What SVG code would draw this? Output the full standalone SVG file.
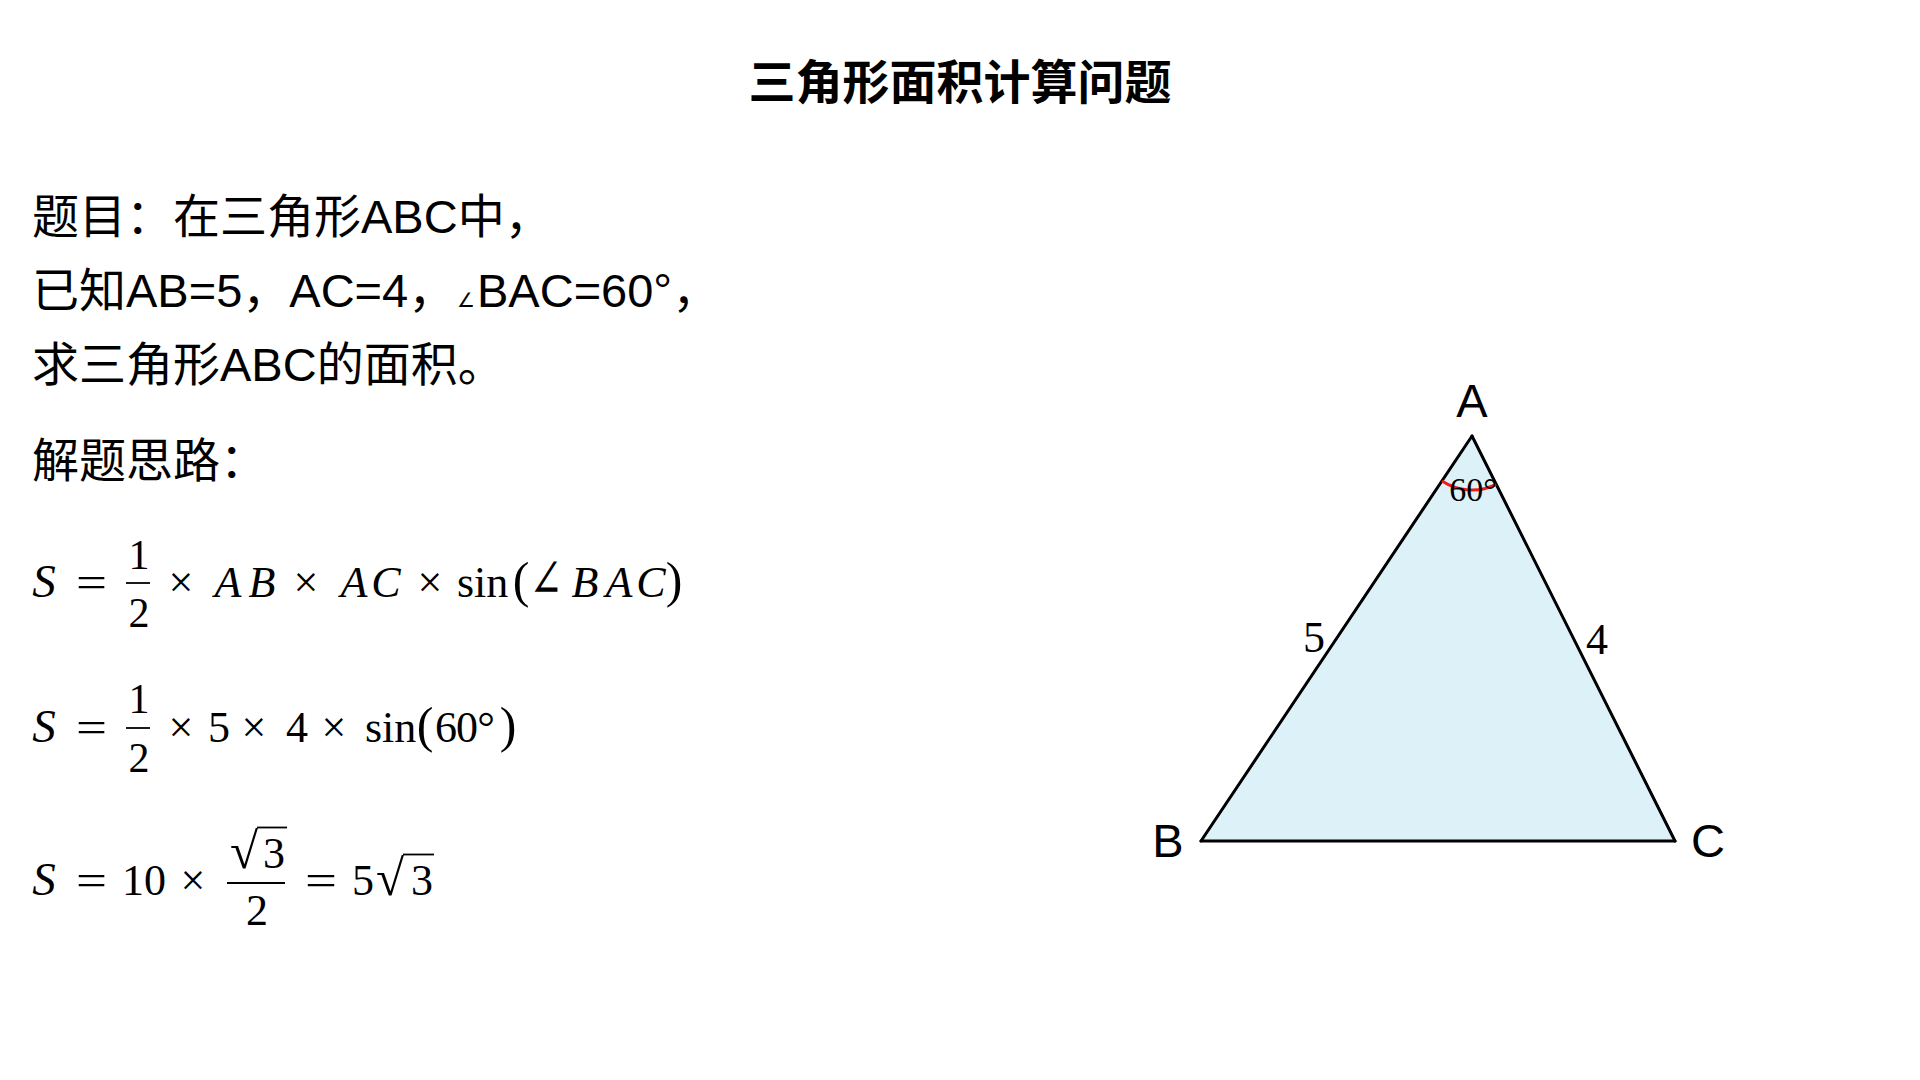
<svg xmlns="http://www.w3.org/2000/svg" width="1920" height="1080" viewBox="0 0 1920 1080">
<defs>
<style>
.title{font-family:"Noto Sans CJK SC","Liberation Sans",sans-serif;font-weight:700;font-size:47px;fill:#000}
.body{font-family:"Liberation Sans","Noto Sans CJK SC",sans-serif;font-size:47px;fill:#000}
.ang{font-family:"DejaVu Sans",sans-serif;font-size:20px}
.m{font-family:"Liberation Serif","DejaVu Serif",serif;font-size:44px;fill:#000;text-anchor:middle}
.ms{font-family:"Liberation Serif","DejaVu Serif",serif;font-size:42px;fill:#000;text-anchor:middle}
.mi{font-style:italic}
.ml{font-family:"Liberation Serif","DejaVu Serif",serif;font-size:44px;fill:#000}
.rad{font-family:"Liberation Serif","DejaVu Serif",serif;font-size:51px;fill:#000}
.par{font-size:50px}
.bar{stroke:#000;stroke-width:1.8}
.vert{font-family:"Liberation Sans",sans-serif;font-size:47px;fill:#000;text-anchor:middle}
.side{stroke:#000;stroke-width:3;stroke-linecap:round}
</style>
</defs>
<rect width="1920" height="1080" fill="#fff"/>
<g id="title">
<text class="title" x="960" y="99" text-anchor="middle">三角形面积计算问题</text>
</g>
<g id="problem">
<text class="body" x="32" y="233">题目：在三角形ABC中，</text>
<text class="body" x="32" y="307">已知AB=5，AC=4，<tspan class="ang" x="457">∠</tspan><tspan x="477">BAC=60°，</tspan></text>
<text class="body" x="32" y="381">求三角形ABC的面积。</text>
</g>
<g id="solution-heading">
<text class="body" x="32" y="477">解题思路：</text>
</g>
<g id="eq1">
<text class="m mi" x="44" y="597" style="font-size:47px">S</text>
<text class="ml" x="76" y="597" textLength="31" lengthAdjust="spacingAndGlyphs">=</text>
<text class="ms" x="139" y="569">1</text>
<line class="bar" x1="126" y1="583" x2="150" y2="583"/>
<text class="ms" x="139" y="627">2</text>
<text class="m" x="181" y="597">×</text>
<text class="m mi" x="228" y="597">A</text>
<text class="m mi" x="262" y="597">B</text>
<text class="m" x="306" y="597">×</text>
<text class="m mi" x="354" y="597">A</text>
<text class="m mi" x="386" y="597">C</text>
<text class="m" x="430" y="597">×</text>
<text class="ml" x="457" y="597">sin</text>
<text class="m par" x="521" y="597">(</text>
<text class="ml" x="529" y="597" style="font-size:54px" textLength="34" lengthAdjust="spacingAndGlyphs">∠</text>
<text class="m mi" x="585" y="597">B</text>
<text class="m mi" x="619" y="597">A</text>
<text class="m mi" x="651" y="597">C</text>
<text class="m par" x="674" y="597">)</text>
</g>
<g id="eq2">
<text class="m mi" x="44" y="742" style="font-size:47px">S</text>
<text class="ml" x="76" y="742" textLength="31" lengthAdjust="spacingAndGlyphs">=</text>
<text class="ms" x="139" y="713">1</text>
<line class="bar" x1="126" y1="728" x2="150" y2="728"/>
<text class="ms" x="139" y="772">2</text>
<text class="m" x="181" y="742">×</text>
<text class="m" x="219" y="742">5</text>
<text class="m" x="254" y="742">×</text>
<text class="m" x="297" y="742">4</text>
<text class="m" x="334" y="742">×</text>
<text class="ml" x="365" y="742">sin</text>
<text class="m par" x="425" y="742">(</text>
<text class="m" x="446" y="742">6</text>
<text class="m" x="467" y="742">0</text>
<text class="m" x="486" y="742">°</text>
<text class="m par" x="508" y="742">)</text>
</g>
<g id="eq3">
<text class="m mi" x="44" y="895" style="font-size:47px">S</text>
<text class="ml" x="76" y="895" textLength="31" lengthAdjust="spacingAndGlyphs">=</text>
<text class="m" x="144" y="895">10</text>
<text class="m" x="193" y="895">×</text>
<text class="rad" x="230" y="868">√</text>
<line class="bar" x1="257" y1="827.5" x2="287" y2="827.5"/>
<text class="m" x="274" y="868">3</text>
<line class="bar" x1="227" y1="883" x2="285" y2="883"/>
<text class="m" x="257" y="925">2</text>
<text class="ml" x="305" y="895" textLength="32" lengthAdjust="spacingAndGlyphs">=</text>
<text class="m" x="363" y="895">5</text>
<text class="rad" x="376" y="895">√</text>
<line class="bar" x1="403" y1="854.5" x2="434" y2="854.5"/>
<text class="m" x="422" y="895">3</text>
</g>
<g id="triangle">
<polygon points="1472,436 1201,841 1675,841" fill="#ddf2f8" stroke="#7fd0e6" stroke-width="2"/>
<line class="side" x1="1472" y1="436" x2="1201" y2="841"/>
<line class="side" x1="1201" y1="841" x2="1675" y2="841"/>
<line class="side" x1="1675" y1="841" x2="1472" y2="436"/>
</g>
<g id="angle-mark">
<path d="M1442,480.9 A54,54 0 0 0 1496.1,484.3" fill="none" stroke="#ee1c1c" stroke-width="3"/>
<text class="m" x="1473" y="501" style="font-size:34px">60°</text>
</g>
<g id="vertex-A"><text class="vert" x="1472" y="417">A</text></g>
<g id="vertex-B"><text class="vert" x="1168" y="857">B</text></g>
<g id="vertex-C"><text class="vert" x="1708" y="857">C</text></g>
<g id="side-labels">
<text class="m" x="1314" y="652">5</text>
<text class="m" x="1597" y="654">4</text>
</g>
</svg>
